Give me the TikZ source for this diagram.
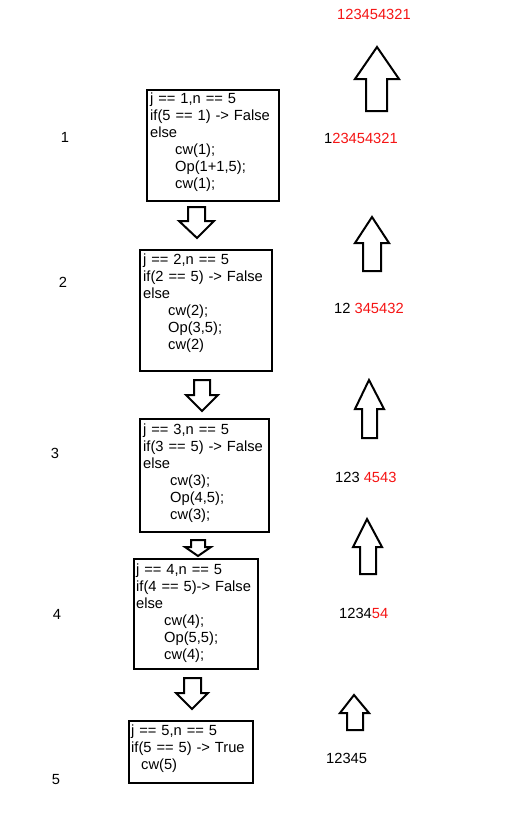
\documentclass[tikz,border=0pt]{standalone}
\usepackage{fontspec}
\setmainfont{Liberation Sans}
\definecolor{numred}{RGB}{245,20,20}
\begin{document}
\begin{tikzpicture}[x=1pt,y=-1pt,
  box/.style={draw, line width=2pt, inner sep=0pt, anchor=north west},
  code/.style={font=\fontsize{14.7}{17}\selectfont, align=left, text width=130pt, inner sep=0pt, anchor=base west},
  lbl/.style={font=\fontsize{14.7}{17}\selectfont, inner sep=0pt},
  num/.style={font=\fontsize{14.7}{17}\selectfont, inner sep=0pt, anchor=west},
  arr/.style={draw, line width=2pt, fill=white, line join=miter}]
\useasboundingbox (0,0) rectangle (508,817);

% boxes
\node[box, minimum width=132pt, minimum height=111pt] (b1) at (146,89) {};
\node[box, minimum width=132pt, minimum height=121pt] (b2) at (139,249) {};
\node[box, minimum width=129pt, minimum height=113pt] (b3) at (139,418) {};
\node[box, minimum width=124pt, minimum height=110pt] (b4) at (133,558) {};
\node[box, minimum width=124pt, minimum height=62pt] (b5) at (128,720) {};

% box texts
\node[code] (t1) at (150,103.5) {j == 1,n == 5\\if(5 == 1) -> False\\else\\\hspace*{25pt}cw(1);\\\hspace*{25pt}Op(1+1,5);\\\hspace*{25pt}cw(1);};
\node[code] (t2) at (143,264) {j == 2,n == 5\\if(2 == 5) -> False\\else\\\hspace*{25pt}cw(2);\\\hspace*{25pt}Op(3,5);\\\hspace*{25pt}cw(2)};
\node[code] (t3) at (143,434) {j == 3,n == 5\\if(3 == 5) -> False\\else\\\hspace*{27pt}cw(3);\\\hspace*{27pt}Op(4,5);\\\hspace*{27pt}cw(3);};
\node[code] (t4) at (136,574) {j == 4,n == 5\\if(4 == 5)-> False\\else\\\hspace*{28pt}cw(4);\\\hspace*{28pt}Op(5,5);\\\hspace*{28pt}cw(4);};
\node[code] (t5) at (131,735) {j == 5,n == 5\\if(5 == 5) -> True\\\hspace*{10pt}cw(5)};

% down arrows
\draw[arr] (188,207) -- (205,207) -- (205,221) -- (214,221) -- (197,238) -- (179,221) -- (188,221) -- cycle;
\draw[arr] (194,380) -- (210,380) -- (210,395) -- (218,395) -- (202,411) -- (186,395) -- (194,395) -- cycle;
\draw[arr] (191,540) -- (205,540) -- (205,547) -- (211,547) -- (198,556) -- (185,547) -- (191,547) -- cycle;
\draw[arr] (184,678) -- (201,678) -- (201,693) -- (208,693) -- (192,709) -- (176,693) -- (184,693) -- cycle;

% up arrows
\draw[arr] (366,111) -- (366,79) -- (355,79) -- (377,47) -- (399,79) -- (387,79) -- (387,111) -- cycle;
\draw[arr] (363,271) -- (363,243) -- (355,243) -- (372,217) -- (389,243) -- (381,243) -- (381,271) -- cycle;
\draw[arr] (362,438) -- (362,409) -- (355,409) -- (369,380) -- (384,409) -- (377,409) -- (377,438) -- cycle;
\draw[arr] (360,574) -- (360,547) -- (353,547) -- (367,519) -- (382,547) -- (376,547) -- (376,574) -- cycle;
\draw[arr] (347,730) -- (347,713) -- (340,713) -- (354,695) -- (369,713) -- (363,713) -- (363,730) -- cycle;

% numbers on the right
\node[num] (n0) at (337,14) {\textcolor{numred}{123454321}};
\node[num] (n1) at (324,138) {1\textcolor{numred}{23454321}};
\node[num] (n2) at (334,308) {12 \textcolor{numred}{345432}};
\node[num] (n3) at (335,477) {123 \textcolor{numred}{4543}};
\node[num] (n4) at (339,613) {1234\textcolor{numred}{54}};
\node[num] (n5) at (326,758) {12345};

% level labels
\node[lbl] (l1) at (65,137) {1};
\node[lbl] (l2) at (63,282) {2};
\node[lbl] (l3) at (55,453) {3};
\node[lbl] (l4) at (57,614) {4};
\node[lbl] (l5) at (56,780) {5};
\end{tikzpicture}
\end{document}
